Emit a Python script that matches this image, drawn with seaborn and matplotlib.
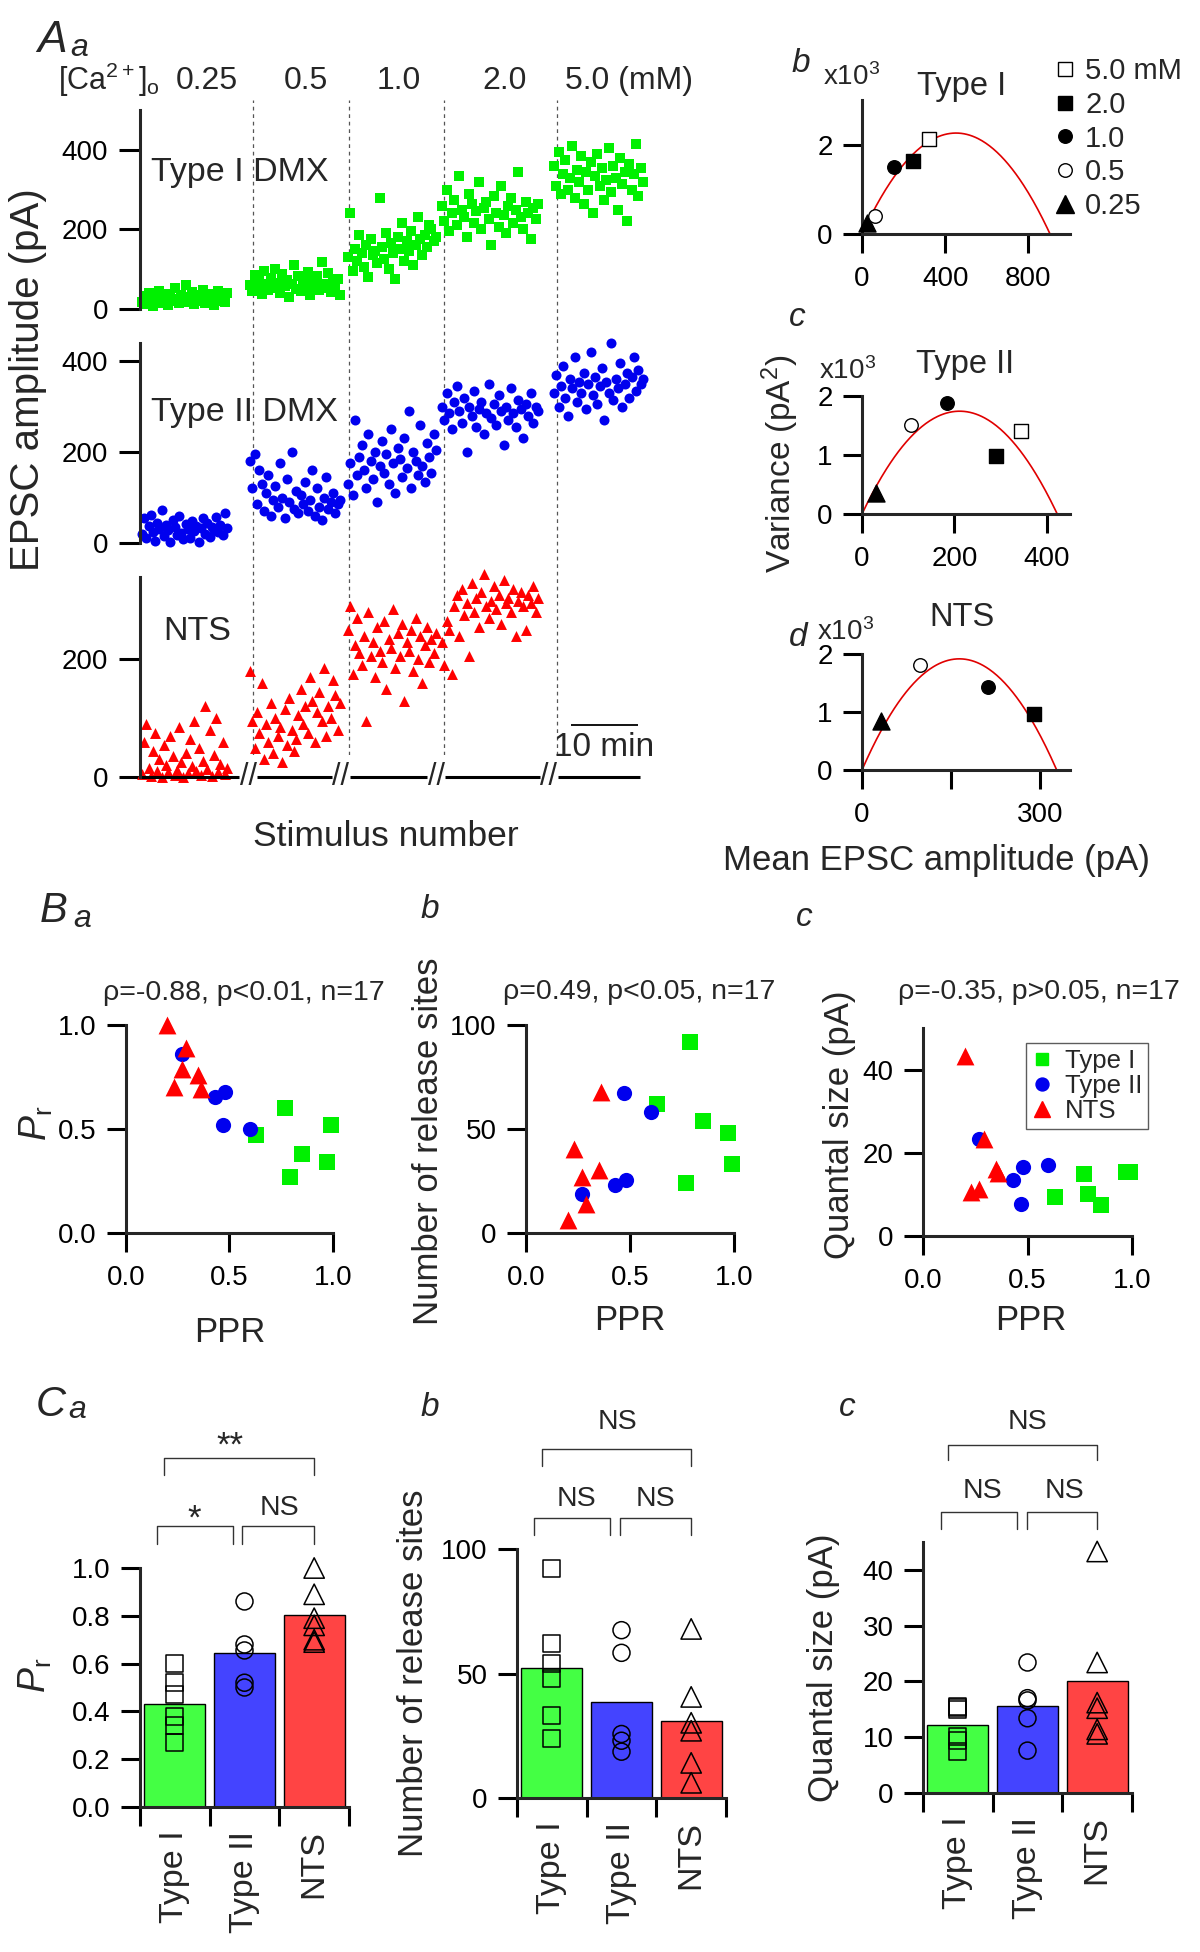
import numpy as np
import pandas as pd
import matplotlib
matplotlib.use('Agg')
import matplotlib.pyplot as plt
import seaborn as sns
from matplotlib.lines import Line2D

# ---------------- data ----------------
ca_conc = ['0.25', '0.5', '1.0', '2.0', '5.0']
seg_start = [2, 110, 208, 302, 414]
seg_span = [85, 90, 88, 96, 89]
dash_x = [113, 209, 304, 417]
break_x = [108, 201, 296, 409]

typeI_025 = [18, 32, 12, 40, 25, 8, 35, 22, 45, 15, 28, 38, 10, 30, 20, 52, 26, 14, 36, 24,
             60, 18, 30, 42, 12, 27, 34, 20, 48, 16, 31, 23, 38, 9, 29, 44, 21, 33, 17, 40]
typeI_05 = [60, 45, 85, 55, 70, 38, 95, 62, 48, 78, 52, 100, 66, 40, 88, 58, 72, 30, 64, 110,
            50, 82, 44, 68, 56, 92, 36, 74, 60, 84, 47, 118, 63, 53, 90, 42, 70, 58, 76, 34]
typeI_10 = [130, 240, 95, 150, 120, 185, 140, 105, 160, 80, 175, 135, 145, 115, 280, 155, 125, 190, 100, 165,
            140, 75, 180, 150, 215, 120, 170, 145, 195, 110, 160, 230, 175, 135, 185, 155, 210, 200, 170, 180]
typeI_20 = [260, 220, 300, 195, 240, 275, 210, 335, 250, 230, 180, 290, 265, 215, 245, 320, 200, 255, 270, 225,
            160, 285, 240, 205, 310, 235, 190, 260, 280, 215, 250, 345, 230, 200, 270, 240, 175, 255, 225, 265]
typeI_50 = [360, 310, 395, 290, 340, 375, 300, 330, 410, 280, 350, 320, 385, 265, 345, 300, 370, 240, 335, 390,
            310, 355, 275, 325, 405, 295, 360, 330, 250, 380, 315, 345, 220, 365, 300, 340, 415, 285, 355, 320]

typeII_025 = [20, 55, 10, 38, 62, 25, 5, 45, 30, 72, 15, 40, 28, 2, 50, 35, 18, 60, 22, 8,
              42, 30, 12, 48, 26, 38, 3, 33, 55, 20, 45, 14, 36, 28, 58, 24, 40, 18, 65, 32]
typeII_05 = [180, 120, 195, 85, 160, 130, 70, 110, 150, 60, 95, 125, 80, 175, 100, 55, 140, 90, 200, 75,
             115, 65, 105, 85, 135, 70, 95, 160, 60, 120, 80, 50, 100, 145, 75, 90, 110, 65, 85, 95]
typeII_10 = [130, 175, 105, 270, 150, 190, 215, 160, 120, 240, 180, 140, 200, 90, 170, 225, 155, 195, 130, 250,
             175, 110, 210, 185, 145, 230, 165, 290, 120, 200, 180, 150, 260, 170, 135, 220, 190, 155, 240, 205]
typeII_20 = [300, 270, 330, 285, 250, 310, 345, 290, 265, 320, 200, 300, 280, 335, 255, 295, 310, 240, 285, 350,
             275, 305, 260, 325, 290, 215, 300, 270, 340, 285, 255, 315, 295, 230, 305, 280, 330, 265, 300, 290]
typeII_50 = [330, 370, 300, 345, 390, 320, 280, 360, 340, 410, 310, 355, 330, 375, 295, 350, 420, 325, 365, 305,
             345, 385, 270, 355, 330, 440, 315, 360, 340, 395, 300, 350, 375, 320, 365, 410, 335, 380, 350, 360]

nts_025 = [5, 60, 90, 15, 2, 45, 75, 10, 30, 0, 55, 20, 8, 70, 35, 3, 12, 85, 25, 0,
           40, 6, 65, 18, 95, 10, 50, 4, 28, 120, 14, 80, 2, 38, 100, 8, 22, 60, 5, 15]
nts_05 = [180, 95, 50, 110, 75, 160, 30, 90, 60, 125, 40, 100, 70, 85, 25, 115, 55, 135, 80, 45,
          65, 105, 150, 90, 120, 75, 170, 130, 60, 110, 145, 95, 185, 70, 120, 100, 165, 140, 80, 125]
nts_10 = [250, 290, 175, 225, 270, 210, 190, 240, 95, 280, 205, 230, 170, 255, 215, 195, 265, 150, 235, 220,
          285, 185, 245, 205, 260, 130, 230, 215, 250, 180, 270, 200, 240, 160, 225, 255, 195, 235, 210, 245]
nts_20 = [230, 190, 265, 250, 175, 290, 310, 240, 320, 275, 295, 205, 330, 280, 305, 255, 315, 345, 290, 270,
          300, 325, 285, 310, 260, 335, 295, 305, 280, 320, 240, 300, 315, 290, 250, 310, 295, 325, 280, 305]

# variance-mean (mean pA, variance x10^3 pA^2)
vm_mean_I = [24, 61, 152, 245, 323]
vm_var_I = [0.24, 0.40, 1.50, 1.64, 2.12]
vm_mean_II = [30, 106, 184, 289, 344]
vm_var_II = [0.36, 1.50, 1.88, 0.99, 1.41]
vm_mean_N = [32, 98, 212, 289]
vm_var_N = [0.85, 1.81, 1.43, 0.96]
fit_q = [10.0, 16.5, 23.4]     # quantal size of parabola fit
fit_N = [90.4, 25.6, 14.0]     # number of sites of parabola fit

groups = ['Type I', 'Type II', 'NTS']
ppr_I = [0.63, 0.77, 0.79, 0.85, 0.97, 0.99]
pr_I = [0.47, 0.60, 0.27, 0.38, 0.34, 0.52]
n_I = [62, 24, 92, 54, 48, 33]
q_I = [9.4, 15.0, 10.1, 7.4, 15.4, 15.5]
ppr_II = [0.27, 0.43, 0.47, 0.48, 0.60]
pr_II = [0.86, 0.655, 0.52, 0.68, 0.50]
n_II = [18.6, 23, 67.4, 25.7, 58.3]
q_II = [23.4, 13.4, 7.6, 16.6, 17.0]
ppr_N = [0.20, 0.23, 0.27, 0.29, 0.35, 0.36]
pr_N = [1.00, 0.70, 0.79, 0.89, 0.76, 0.69]
n_N = [6.1, 40.6, 27, 14.1, 30.2, 67.9]
q_N = [43.3, 10.6, 11.4, 23.4, 16.2, 15.2]

# ---------------- style ----------------
sns.set_theme(style='ticks')
plt.rcParams['font.family'] = ['Liberation Sans', 'DejaVu Sans']
plt.rcParams['mathtext.fontset'] = 'custom'
plt.rcParams['mathtext.rm'] = 'Liberation Sans'
plt.rcParams['mathtext.it'] = 'Liberation Sans:italic'
plt.rcParams['mathtext.bf'] = 'Liberation Sans:bold'

GREEN, BLUE, RED = '#00F000', '#0000EE', '#FF0000'
BGREEN, BBLUE, BRED = '#44FF44', '#4444FF', '#FF4444'
LW = 2.2
TL = 14

W, H = 1200, 1952
fig = plt.figure(figsize=(W / 100, H / 100), dpi=100)


def add_ax(x0, y0, x1, y1):
    return fig.add_axes([x0 / W, 1 - y1 / H, (x1 - x0) / W, (y1 - y0) / H])


def ftext(x, y, s, size, ha='center', va='center', **kw):
    fig.text(x / W, 1 - y / H, s, fontsize=size, ha=ha, va=va, **kw)


def style(ax, xpad=9, ypad=7, fs=20, bottom=True):
    for s in ['top', 'right']:
        ax.spines[s].set_visible(False)
    ax.spines['left'].set_linewidth(LW)
    ax.spines['bottom'].set_linewidth(LW)
    if not bottom:
        ax.spines['bottom'].set_visible(False)
        ax.tick_params(axis='x', which='both', bottom=False, labelbottom=False)
    ax.tick_params(direction='out', length=TL, width=LW, labelsize=fs, color='black', labelcolor='black')
    ax.tick_params(axis='x', pad=xpad)
    ax.tick_params(axis='y', pad=ypad)
    ax.set_xlabel('')
    ax.set_ylabel('')


def seg_x(k, n):
    return seg_start[k] + np.arange(n) * seg_span[k] / (n - 1)


# ---------------- Panel Aa ----------------
axD = add_ax(140, 100, 645, 755)
axD.set_xlim(0, 505)
axD.set_ylim(0, 1)
axD.axis('off')
axD.vlines(dash_x, 0, 1, color='#555555', lw=0.9, linestyles=(0, (3, 3)))

specs = [
    ([typeI_025, typeI_05, typeI_10, typeI_20, typeI_50], 's', GREEN, 46, (110, 309), 500, [0, 200, 400]),
    ([typeII_025, typeII_05, typeII_10, typeII_20, typeII_50], 'o', BLUE, 52, (343, 543), 440, [0, 200, 400]),
    ([nts_025, nts_05, nts_10, nts_20], '^', RED, 62, (577, 777), 340, [0, 200]),
]
axA = []
for segs, mk, col, sz, (yt, yb), ymax, yt_ in specs:
    ax = add_ax(140, yt, 645, yb)
    ax.set_facecolor('none')
    for k, vals in enumerate(segs):
        sns.scatterplot(x=seg_x(k, len(vals)), y=vals, marker=mk, color=col, s=sz,
                        linewidth=0, ax=ax, legend=False, clip_on=False)
    ax.set_xlim(0, 505)
    ax.set_ylim(0, ymax)
    ax.set_yticks(yt_)
    style(ax, ypad=8, bottom=False)
    ax.tick_params(axis='y', length=15)
    axA.append(ax)

axN = axA[2]
bounds = [0] + [v for b in break_x for v in (b - 9, b + 9)] + [500]
for a, b in zip(bounds[0::2], bounds[1::2]):
    axN.hlines(0, a, b, color='black', lw=LW, clip_on=False)
for b in break_x:
    axN.text(b, 0, '//', ha='center', va='center', fontsize=22, clip_on=False)
# 10 min scale bar
axN.hlines(88, 431, 498, color='black', lw=1.3, clip_on=False)
axN.text(464, 51, '10 min', ha='center', va='center', fontsize=24)

ftext(151, 172, 'Type I DMX', 24.5, ha='left')
ftext(151, 412, 'Type II DMX', 24.5, ha='left')
ftext(163, 632, 'NTS', 24.5, ha='left')
ftext(58, 80, r'[Ca$^{2+}$]$_\mathrm{o}$', 22, ha='left')
for xc, lab in zip([207, 306, 399, 505], ca_conc[:4]):
    ftext(xc, 81, lab, 23)
ftext(565, 81, ca_conc[4] + ' (mM)', 23, ha='left')
ftext(28, 380, 'EPSC amplitude (pA)', 29, rotation=90)
ftext(386, 837, 'Stimulus number', 25.5)
ftext(37, 40, 'A', 32, ha='left', style='italic')
ftext(70, 48, 'a', 23, ha='left', style='italic')

# ---------------- Panels b, c, d (variance-mean) ----------------
conc_marker = {'0.25': ('^', 'black', 150), '0.5': ('o', 'white', 95), '1.0': ('o', 'black', 95),
               '2.0': ('s', 'black', 90), '5.0': ('s', 'white', 90)}
vm_sets = [(vm_mean_I, vm_var_I, (100, 234), 1000, 3, [0, 400, 800], [0, 2], 'Type I'),
           (vm_mean_II, vm_var_II, (396, 514), 450, 2, [0, 200, 400], [0, 1, 2], 'Type II'),
           (vm_mean_N, vm_var_N, (654, 770), 350, 2, [0, 150, 300], [0, 1, 2], 'NTS')]
vm_axes = []
for i, (mx, vy, (yt, yb), xmax, ymax, xt, yt_, title) in enumerate(vm_sets):
    ax = add_ax(862, yt, 1070, yb)
    q, N = fit_q[i], fit_N[i]
    I = np.linspace(0, q * N, 200)
    sns.lineplot(x=I, y=(q * I - I ** 2 / N) / 1000, color='#E00000', lw=1.2, ax=ax, clip_on=False)
    for j in range(len(mx)):
        mk, fc, sz = conc_marker[ca_conc[j]]
        ax.scatter([mx[j]], [vy[j]], marker=mk, s=sz, facecolors=fc, edgecolors='black',
                   linewidths=1.0, clip_on=False, zorder=3)
    ax.set_xlim(0, xmax)
    ax.set_ylim(0, ymax)
    ax.set_xticks(xt)
    ax.set_yticks(yt_)
    style(ax, xpad=9, ypad=7)
    if title == 'NTS':
        ax.set_xticklabels(['0', '', '300'])
    vm_axes.append(ax)

ftext(962, 86, 'Type I', 23.5)
ftext(965, 364, 'Type II', 23.5)
ftext(962, 617, 'NTS', 23.5)
ftext(823, 77, r'x10$^3$', 20, ha='left')
ftext(819, 371, r'x10$^3$', 20, ha='left')
ftext(817, 632, r'x10$^3$', 20, ha='left')
ftext(801, 64, 'b', 24, style='italic')
ftext(797, 318, 'c', 24, style='italic')
ftext(798, 637, 'd', 24, style='italic')
ftext(780, 464, r'Variance (pA$^2$)', 24, rotation=90)
ftext(936, 860, 'Mean EPSC amplitude (pA)', 25)

leg_order = ['5.0', '2.0', '1.0', '0.5', '0.25']
leg_text = ['5.0 mM', '2.0', '1.0', '0.5', '0.25']
handles = []
for c in leg_order:
    mk, fc, sz = conc_marker[c]
    handles.append(Line2D([], [], marker=mk, linestyle='none', markerfacecolor=fc,
                          markeredgecolor='black', markersize=np.sqrt(sz), markeredgewidth=1.0))
vm_axes[0].legend(handles, leg_text, loc='upper left', bbox_to_anchor=(1053 / W, 1 - 57 / H),
                  bbox_transform=fig.transFigure, frameon=False, fontsize=21, handlelength=0.8,
                  handletextpad=0.3, labelspacing=0.2, borderpad=0, borderaxespad=0)

# ---------------- Panels B ----------------
grp_data = [(ppr_I, pr_I, n_I, q_I, 's', GREEN, 120),
            (ppr_II, pr_II, n_II, q_II, 'o', BLUE, 120),
            (ppr_N, pr_N, n_N, q_N, '^', RED, 165)]
B_specs = [((126, 1025, 333, 1233), 1, [0, 0.5, 1.0], ['0.0', '0.5', '1.0'], 1),
           ((526, 1025, 734, 1233), 100, [0, 50, 100], ['0', '50', '100'], 2),
           ((923, 1028, 1132, 1236), 50, [0, 20, 40], ['0', '20', '40'], 3)]
B_axes = []
for (box, ymax, yt_, ytl, col_idx) in B_specs:
    ax = add_ax(*box)
    for g in grp_data:
        sns.scatterplot(x=g[0], y=g[col_idx], marker=g[4], color=g[5], s=g[6], linewidth=0,
                        ax=ax, legend=False, clip_on=False)
    ax.set_xlim(0, 1)
    ax.set_ylim(0, ymax)
    ax.set_xticks([0, 0.5, 1.0])
    ax.set_xticklabels(['0.0', '0.5', '1.0'])
    ax.set_yticks(yt_)
    ax.set_yticklabels(ytl)
    style(ax, xpad=9, ypad=7)
    B_axes.append(ax)

ftext(244, 993, 'ρ=-0.88, p<0.01, n=17', 20.5)
ftext(639, 992, 'ρ=0.49, p<0.05, n=17', 20.5)
ftext(1039, 992, 'ρ=-0.35, p>0.05, n=17', 20.5)
ftext(230, 1332, 'PPR', 25)
ftext(630, 1320, 'PPR', 25)
ftext(1031, 1320, 'PPR', 25)
ftext(36, 1123, r'$P_\mathrm{r}$', 27, rotation=90)
ftext(428, 1141, 'Number of release sites', 25, rotation=90)
ftext(839, 1125, 'Quantal size (pA)', 25, rotation=90)
ftext(40, 911, 'B', 30, ha='left', style='italic')
ftext(73, 919, 'a', 23, ha='left', style='italic')
ftext(430, 910, 'b', 24, style='italic')
ftext(804, 917, 'c', 24, style='italic')

hB = [Line2D([], [], marker=g[4], linestyle='none', markerfacecolor=g[5], markeredgecolor=g[5],
             markersize=np.sqrt(g[6]) * 0.85) for g in grp_data]
lg = B_axes[2].legend(hB, groups, loc='upper left', bbox_to_anchor=(1026 / W, 1 - 1043 / H),
                      bbox_transform=fig.transFigure, frameon=True, fancybox=False, fontsize=18.5,
                      handlelength=0.8, handletextpad=0.5, labelspacing=0.05, borderpad=0.22,
                      borderaxespad=0)
lg.get_frame().set_edgecolor('#333333')
lg.get_frame().set_linewidth(1.0)

# ---------------- Panels C ----------------
C_specs = [((140, 1568, 349, 1807), 1, [0, 0.2, 0.4, 0.6, 0.8, 1.0],
            ['0.0', '0.2', '0.4', '0.6', '0.8', '1.0'], 1),
           ((517, 1549, 726, 1798), 100, [0, 50, 100], ['0', '50', '100'], 2),
           ((923, 1542, 1132, 1793), 45, [0, 10, 20, 30, 40], ['0', '10', '20', '30', '40'], 3)]
open_sizes = [150, 150, 215]
C_axes = []
for (box, ymax, yt_, ytl, col_idx) in C_specs:
    ax = add_ax(*box)
    rows = []
    for gname, g in zip(groups, grp_data):
        for v in g[col_idx]:
            rows.append((gname, v))
    df = pd.DataFrame(rows, columns=['group', 'value'])
    sns.barplot(data=df, x='group', y='value', hue='group', order=groups, hue_order=groups,
                palette=[BGREEN, BBLUE, BRED], legend=False, errorbar=None, width=0.88,
                saturation=1, edgecolor='black', linewidth=1.0, ax=ax)
    for i, g in enumerate(grp_data):
        vals = g[col_idx]
        ax.scatter(np.full(len(vals), i), vals, marker=g[4], s=open_sizes[i], facecolors='none',
                   edgecolors='black', linewidths=1.1, clip_on=False, zorder=4)
    ax.set_xlim(-0.5, 2.5)
    ax.set_ylim(0, ymax)
    ax.set_yticks(yt_)
    ax.set_yticklabels(ytl)
    style(ax, ypad=7)
    ax.set_xticks([-0.5, 0.5, 1.5, 2.5])
    ax.set_xticklabels([])
    ax.set_xticks([0, 1, 2], minor=True)
    ax.set_xticklabels(groups, minor=True, rotation=90, fontsize=24.5)
    ax.tick_params(axis='x', which='minor', length=0, pad=17)
    C_axes.append(ax)


def bracket(ax, x1, x2, ytop, ybot):
    ax.plot([x1, x1, x2, x2], [ybot, ytop, ytop, ybot], color='#333333', lw=1.0, clip_on=False)


# Ca brackets
bracket(C_axes[0], -0.26, 0.83, 1.176, 1.10)
bracket(C_axes[0], 0.97, 2.0, 1.176, 1.10)
bracket(C_axes[0], -0.16, 2.0, 1.46, 1.389)
C_axes[0].text(0.275, 1.205, '*', ha='center', va='center', fontsize=25)
C_axes[0].text(1.50, 1.25, 'NS', ha='center', va='center', fontsize=20.5)
C_axes[0].text(0.79, 1.51, '**', ha='center', va='center', fontsize=25)
# Cb brackets
bracket(C_axes[1], -0.256, 0.834, 112.4, 105.6)
bracket(C_axes[1], 0.978, 1.996, 112.4, 105.6)
bracket(C_axes[1], -0.141, 1.996, 140.2, 133.3)
C_axes[1].text(0.36, 120, 'NS', ha='center', va='center', fontsize=20.5)
C_axes[1].text(1.48, 120, 'NS', ha='center', va='center', fontsize=20.5)
C_axes[1].text(0.935, 151, 'NS', ha='center', va='center', fontsize=20.5)
# Cc brackets
bracket(C_axes[2], -0.242, 0.849, 50.4, 47.4)
bracket(C_axes[2], 0.992, 1.996, 50.4, 47.4)
bracket(C_axes[2], -0.141, 1.996, 62.4, 59.7)
C_axes[2].text(0.346, 54.2, 'NS', ha='center', va='center', fontsize=20.5)
C_axes[2].text(1.537, 54.2, 'NS', ha='center', va='center', fontsize=20.5)
C_axes[2].text(0.992, 66.5, 'NS', ha='center', va='center', fontsize=20.5)

ftext(35, 1675, r'$P_\mathrm{r}$', 27, rotation=90)
ftext(414, 1673, 'Number of release sites', 25, rotation=90)
ftext(824, 1668, 'Quantal size (pA)', 25, rotation=90)
ftext(36, 1405, 'C', 30, ha='left', style='italic')
ftext(68, 1410, 'a', 23, ha='left', style='italic')
ftext(430, 1407, 'b', 24, style='italic')
ftext(847, 1407, 'c', 24, style='italic')

fig.savefig('out.png', dpi=100)
